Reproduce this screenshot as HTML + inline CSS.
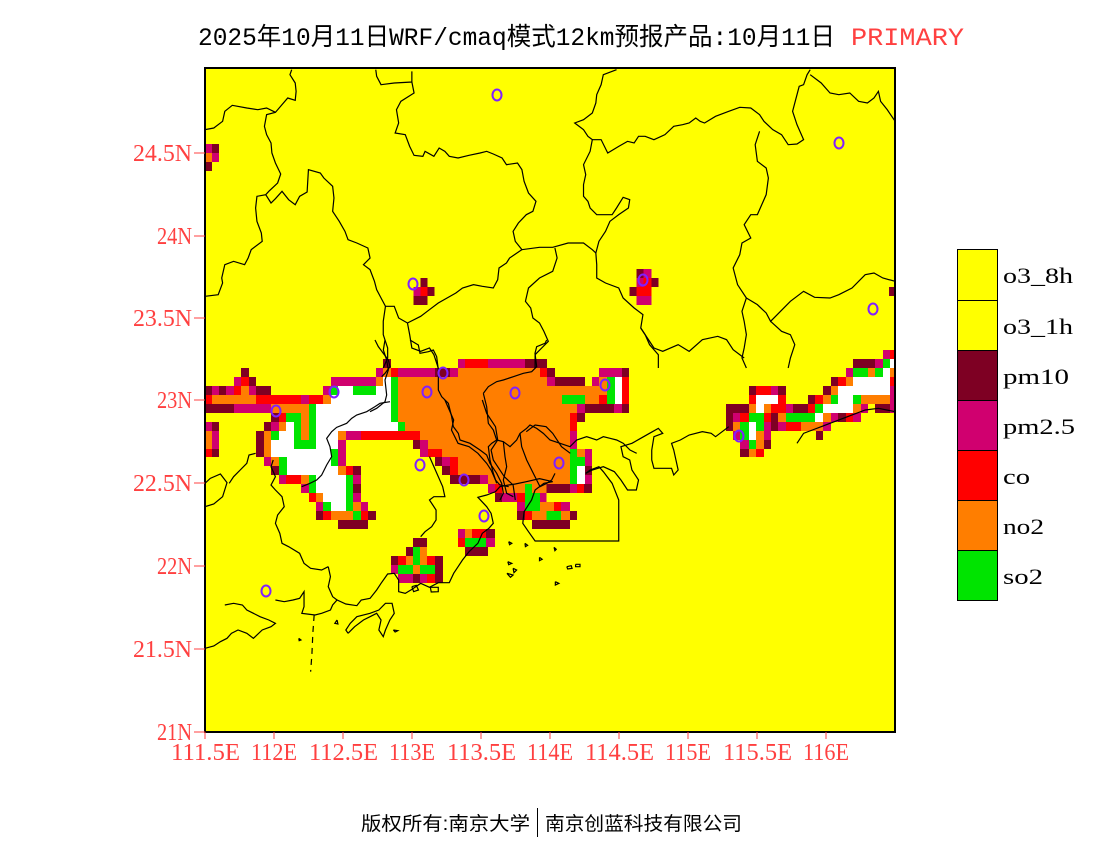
<!DOCTYPE html>
<html><head><meta charset="utf-8">
<style>
html,body{margin:0;padding:0;background:#fff;}
body{width:1100px;height:850px;overflow:hidden;}
.m{fill:#7e0023}.p{fill:#d0006f}.r{fill:#ff0000}.o{fill:#ff7e00}.g{fill:#00e400}.w{fill:#ffffff}
.cells rect{shape-rendering:crispEdges}
.ln{fill:none;stroke:#000;stroke-width:1.2;vector-effect:non-scaling-stroke}
.cir{fill:none;stroke:#8020ff;stroke-width:2}
.ax{font-family:"Liberation Serif",serif;font-size:24px;fill:#ff4040}
.lg{font-family:"Liberation Serif",serif;font-size:22px;fill:#000}
</style></head>
<body>
<svg width="1100" height="850" xmlns="http://www.w3.org/2000/svg">
<defs><clipPath id="cp"><rect x="205" y="68" width="690" height="664"/></clipPath></defs>

<text x="198" y="45" font-family="Liberation Mono,'Noto Sans CJK SC',monospace" font-size="25" fill="#000" textLength="637" lengthAdjust="spacingAndGlyphs">2025年10月11日WRF/cmaq模式12km预报产品:10月11日</text>
<text x="851" y="45" font-family="Liberation Mono,monospace" font-size="25" fill="#ff4040" textLength="113" lengthAdjust="spacingAndGlyphs">PRIMARY</text>

<g clip-path="url(#cp)">
<rect x="205" y="68" width="690" height="664" fill="#ffff00"/>

<g class="cells">
<!-- top-left -->
<rect class="p" x="205" y="144" width="7" height="9"/><rect class="m" x="212" y="144" width="7" height="9"/>
<rect class="o" x="205" y="153" width="7" height="9"/><rect class="p" x="212" y="153" width="7" height="9"/>
<rect class="m" x="205" y="162" width="7" height="9"/>
<!-- 23.7N clusters -->
<rect class="m" x="420.3" y="278" width="7" height="9"/><rect class="p" x="413.3" y="287" width="7" height="9"/><rect class="r" x="420.3" y="287" width="7" height="9"/><rect class="m" x="427.3" y="287" width="7" height="9"/><rect class="m" x="413.3" y="296" width="14" height="9"/>
<rect class="m" x="636.3" y="269" width="7" height="9"/><rect class="p" x="643.3" y="269" width="8" height="9"/><rect class="p" x="636.3" y="278" width="7" height="9"/><rect class="r" x="643.3" y="278" width="8" height="9"/><rect class="m" x="651.3" y="278" width="7" height="9"/><rect class="m" x="629.3" y="287" width="7" height="9"/><rect class="r" x="636.3" y="287" width="15" height="9"/><rect class="p" x="636.3" y="296" width="15" height="9"/>
<rect class="m" x="889" y="287" width="6" height="9"/>

<!-- zoom1 region -->
<g transform="translate(190,340) scale(0.333333)">
<rect class="m" x="579" y="57" width="24" height="27"/>
<rect class="m" x="153" y="84" width="24" height="27"/><rect class="p" x="558" y="84" width="21" height="27"/><rect class="o" x="579" y="84" width="24" height="27"/><rect class="r" x="603" y="84" width="21" height="27"/>
<rect class="p" x="132" y="111" width="21" height="27"/><rect class="r" x="153" y="111" width="24" height="27"/><rect class="m" x="177" y="111" width="21" height="27"/><rect class="p" x="423" y="111" width="135" height="27"/><rect class="o" x="558" y="111" width="21" height="27"/><rect class="w" x="579" y="111" width="24" height="27"/><rect class="g" x="603" y="111" width="21" height="27"/>
<rect class="m" x="40" y="138" width="26" height="27"/><rect class="p" x="66" y="138" width="21" height="27"/><rect class="m" x="87" y="138" width="21" height="27"/><rect class="p" x="108" y="138" width="24" height="27"/><rect class="r" x="132" y="138" width="21" height="27"/><rect class="o" x="153" y="138" width="24" height="27"/><rect class="p" x="177" y="138" width="21" height="27"/><rect class="m" x="198" y="138" width="45" height="27"/><rect class="p" x="399" y="138" width="24" height="27"/><rect class="g" x="423" y="138" width="21" height="27"/><rect class="w" x="444" y="138" width="45" height="27"/><rect class="g" x="489" y="138" width="69" height="27"/><rect class="w" x="558" y="138" width="45" height="27"/><rect class="g" x="603" y="138" width="21" height="27"/>
<rect class="r" x="40" y="165" width="26" height="27"/><rect class="o" x="66" y="165" width="132" height="27"/><rect class="r" x="198" y="165" width="135" height="27"/><rect class="p" x="333" y="165" width="24" height="27"/><rect class="r" x="357" y="165" width="42" height="27"/><rect class="o" x="399" y="165" width="24" height="27"/><rect class="w" x="423" y="165" width="180" height="27"/><rect class="g" x="603" y="165" width="21" height="27"/>
<rect class="m" x="40" y="192" width="92" height="27"/><rect class="p" x="132" y="192" width="111" height="27"/><rect class="o" x="243" y="192" width="114" height="27"/><rect class="g" x="357" y="192" width="21" height="27"/><rect class="w" x="378" y="192" width="225" height="27"/><rect class="g" x="603" y="192" width="21" height="27"/>
<rect class="m" x="243" y="219" width="24" height="27"/><rect class="r" x="267" y="219" width="21" height="27"/><rect class="g" x="288" y="219" width="45" height="27"/><rect class="o" x="333" y="219" width="24" height="27"/><rect class="g" x="357" y="219" width="21" height="27"/><rect class="w" x="378" y="219" width="225" height="27"/><rect class="g" x="603" y="219" width="21" height="27"/>
<rect class="p" x="40" y="246" width="26" height="27"/><rect class="m" x="66" y="246" width="21" height="27"/><rect class="m" x="222" y="246" width="21" height="27"/><rect class="p" x="243" y="246" width="24" height="27"/><rect class="o" x="267" y="246" width="21" height="27"/><rect class="w" x="288" y="246" width="24" height="27"/><rect class="g" x="312" y="246" width="21" height="27"/><rect class="o" x="333" y="246" width="24" height="27"/><rect class="g" x="357" y="246" width="21" height="27"/><rect class="w" x="378" y="246" width="246" height="27"/>
<rect class="o" x="40" y="273" width="26" height="27"/><rect class="p" x="66" y="273" width="21" height="27"/><rect class="m" x="198" y="273" width="24" height="27"/><rect class="o" x="222" y="273" width="21" height="27"/><rect class="g" x="243" y="273" width="24" height="27"/><rect class="w" x="267" y="273" width="45" height="27"/><rect class="g" x="312" y="273" width="21" height="27"/><rect class="o" x="333" y="273" width="24" height="27"/><rect class="g" x="357" y="273" width="21" height="27"/><rect class="w" x="378" y="273" width="66" height="27"/><rect class="o" x="444" y="273" width="24" height="27"/><rect class="p" x="468" y="273" width="45" height="27"/><rect class="r" x="513" y="273" width="111" height="27"/>
<rect class="o" x="40" y="300" width="26" height="27"/><rect class="p" x="66" y="300" width="21" height="27"/><rect class="m" x="198" y="300" width="24" height="27"/><rect class="o" x="222" y="300" width="21" height="27"/><rect class="w" x="243" y="300" width="69" height="27"/><rect class="g" x="312" y="300" width="66" height="27"/><rect class="w" x="378" y="300" width="66" height="27"/><rect class="p" x="444" y="300" width="24" height="27"/>
<rect class="r" x="40" y="327" width="26" height="24"/><rect class="m" x="66" y="327" width="21" height="24"/><rect class="m" x="198" y="327" width="24" height="24"/><rect class="o" x="222" y="327" width="21" height="24"/><rect class="w" x="243" y="327" width="180" height="24"/><rect class="g" x="423" y="327" width="21" height="24"/><rect class="p" x="444" y="327" width="24" height="24"/>
<rect class="p" x="222" y="351" width="21" height="27"/><rect class="o" x="243" y="351" width="24" height="27"/><rect class="g" x="267" y="351" width="24" height="27"/><rect class="w" x="291" y="351" width="132" height="27"/><rect class="g" x="423" y="351" width="21" height="27"/><rect class="p" x="444" y="351" width="24" height="27"/>
<rect class="m" x="243" y="378" width="24" height="27"/><rect class="g" x="267" y="378" width="24" height="27"/><rect class="w" x="291" y="378" width="153" height="27"/><rect class="o" x="444" y="378" width="24" height="27"/><rect class="r" x="468" y="378" width="21" height="27"/><rect class="m" x="489" y="378" width="24" height="27"/>
<rect class="p" x="267" y="405" width="21" height="27"/><rect class="r" x="288" y="405" width="45" height="27"/><rect class="o" x="333" y="405" width="24" height="27"/><rect class="g" x="357" y="405" width="21" height="27"/><rect class="w" x="378" y="405" width="90" height="27"/><rect class="g" x="468" y="405" width="21" height="27"/><rect class="p" x="489" y="405" width="24" height="27"/>
<rect class="p" x="333" y="432" width="24" height="27"/><rect class="g" x="357" y="432" width="21" height="27"/><rect class="w" x="378" y="432" width="90" height="27"/><rect class="g" x="468" y="432" width="21" height="27"/><rect class="m" x="489" y="432" width="24" height="27"/>
<rect class="r" x="357" y="459" width="21" height="27"/><rect class="o" x="378" y="459" width="21" height="27"/><rect class="w" x="399" y="459" width="69" height="27"/><rect class="g" x="468" y="459" width="21" height="27"/><rect class="p" x="489" y="459" width="24" height="27"/>
<rect class="p" x="378" y="486" width="21" height="27"/><rect class="g" x="399" y="486" width="24" height="27"/><rect class="w" x="423" y="486" width="45" height="27"/><rect class="g" x="468" y="486" width="21" height="27"/><rect class="o" x="489" y="486" width="24" height="27"/><rect class="p" x="513" y="486" width="21" height="27"/>
<rect class="m" x="378" y="513" width="21" height="27"/><rect class="r" x="399" y="513" width="24" height="27"/><rect class="o" x="423" y="513" width="66" height="27"/><rect class="g" x="489" y="513" width="24" height="27"/><rect class="r" x="513" y="513" width="21" height="27"/><rect class="m" x="534" y="513" width="24" height="27"/>
<rect class="m" x="444" y="540" width="90" height="27"/>
</g>

<!-- zoom2 region (main orange) -->
<g transform="translate(370,340) scale(0.333333)">
<rect class="p" x="264" y="57" width="21" height="27"/><rect class="r" x="285" y="57" width="69" height="27"/><rect class="p" x="354" y="57" width="111" height="27"/><rect class="m" x="465" y="57" width="66" height="27"/>
<rect class="p" x="84" y="84" width="111" height="27"/><rect class="m" x="195" y="84" width="45" height="27"/><rect class="p" x="240" y="84" width="24" height="27"/><rect class="o" x="264" y="84" width="246" height="27"/><rect class="r" x="510" y="84" width="21" height="27"/><rect class="m" x="531" y="84" width="24" height="27"/><rect class="p" x="687" y="84" width="69" height="27"/><rect class="m" x="756" y="84" width="21" height="27"/>
<rect class="o" x="84" y="111" width="447" height="27"/><rect class="p" x="531" y="111" width="24" height="27"/><rect class="m" x="555" y="111" width="90" height="27"/><rect class="p" x="666" y="111" width="21" height="27"/><rect class="o" x="687" y="111" width="24" height="27"/><rect class="g" x="711" y="111" width="24" height="27"/><rect class="w" x="735" y="111" width="21" height="27"/><rect class="r" x="756" y="111" width="21" height="27"/>
<rect class="o" x="84" y="138" width="627" height="27"/><rect class="g" x="711" y="138" width="24" height="27"/><rect class="w" x="735" y="138" width="21" height="27"/><rect class="r" x="756" y="138" width="21" height="27"/>
<rect class="o" x="84" y="165" width="492" height="27"/><rect class="g" x="576" y="165" width="69" height="27"/><rect class="o" x="645" y="165" width="42" height="27"/><rect class="r" x="687" y="165" width="24" height="27"/><rect class="g" x="711" y="165" width="24" height="27"/><rect class="w" x="735" y="165" width="21" height="27"/><rect class="r" x="756" y="165" width="21" height="27"/>
<rect class="o" x="84" y="192" width="537" height="27"/><rect class="p" x="621" y="192" width="24" height="27"/><rect class="m" x="645" y="192" width="87" height="27"/><rect class="p" x="732" y="192" width="24" height="27"/><rect class="m" x="756" y="192" width="21" height="27"/>
<rect class="o" x="84" y="219" width="516" height="27"/><rect class="r" x="600" y="219" width="21" height="27"/><rect class="m" x="621" y="219" width="24" height="27"/>
<rect class="g" x="84" y="246" width="21" height="27"/><rect class="o" x="105" y="246" width="495" height="27"/><rect class="r" x="600" y="246" width="21" height="27"/>
<rect class="r" x="84" y="273" width="66" height="27"/><rect class="o" x="150" y="273" width="450" height="27"/><rect class="p" x="600" y="273" width="21" height="27"/>
<rect class="m" x="129" y="300" width="21" height="27"/><rect class="p" x="150" y="300" width="24" height="27"/><rect class="o" x="174" y="300" width="426" height="27"/><rect class="p" x="600" y="300" width="21" height="27"/>
<rect class="p" x="150" y="327" width="24" height="24"/><rect class="r" x="174" y="327" width="42" height="24"/><rect class="o" x="216" y="327" width="384" height="24"/><rect class="g" x="600" y="327" width="21" height="24"/><rect class="o" x="621" y="327" width="24" height="24"/><rect class="p" x="645" y="327" width="21" height="24"/>
<rect class="m" x="195" y="351" width="21" height="27"/><rect class="p" x="216" y="351" width="24" height="27"/><rect class="r" x="240" y="351" width="24" height="27"/><rect class="o" x="264" y="351" width="336" height="27"/><rect class="g" x="600" y="351" width="45" height="27"/><rect class="p" x="645" y="351" width="21" height="27"/>
<rect class="m" x="216" y="378" width="24" height="27"/><rect class="r" x="240" y="378" width="24" height="27"/><rect class="o" x="264" y="378" width="336" height="27"/><rect class="g" x="600" y="378" width="21" height="27"/><rect class="w" x="621" y="378" width="24" height="27"/><rect class="m" x="645" y="378" width="21" height="27"/>
<rect class="m" x="240" y="405" width="90" height="27"/><rect class="p" x="330" y="405" width="24" height="27"/><rect class="o" x="354" y="405" width="246" height="27"/><rect class="g" x="600" y="405" width="21" height="27"/><rect class="w" x="621" y="405" width="24" height="27"/><rect class="p" x="645" y="405" width="21" height="27"/>
</g>

<!-- zoom7 region (south) -->
<g transform="translate(380,480) scale(0.333333)">
<rect class="p" x="324" y="12" width="21" height="27"/><rect class="r" x="345" y="12" width="21" height="27"/><rect class="o" x="366" y="12" width="69" height="27"/><rect class="g" x="435" y="12" width="21" height="27"/><rect class="o" x="456" y="12" width="44" height="27"/><rect class="m" x="500" y="12" width="70" height="27"/><rect class="p" x="570" y="12" width="21" height="27"/><rect class="r" x="591" y="12" width="21" height="27"/><rect class="m" x="612" y="12" width="24" height="27"/>
<rect class="m" x="345" y="39" width="21" height="27"/><rect class="p" x="366" y="39" width="45" height="27"/><rect class="r" x="411" y="39" width="24" height="27"/><rect class="g" x="435" y="39" width="45" height="27"/><rect class="p" x="480" y="39" width="20" height="27"/>
<rect class="p" x="411" y="66" width="24" height="27"/><rect class="g" x="435" y="66" width="45" height="27"/><rect class="o" x="480" y="66" width="42" height="27"/><rect class="r" x="522" y="66" width="21" height="27"/><rect class="p" x="543" y="66" width="27" height="27"/>
<rect class="m" x="411" y="93" width="24" height="27"/><rect class="r" x="435" y="93" width="21" height="27"/><rect class="o" x="456" y="93" width="44" height="27"/><rect class="g" x="500" y="93" width="43" height="27"/><rect class="o" x="543" y="93" width="27" height="27"/><rect class="m" x="570" y="93" width="21" height="27"/>
<rect class="m" x="456" y="120" width="114" height="27"/>
<rect class="p" x="234" y="147" width="21" height="27"/><rect class="o" x="255" y="147" width="21" height="27"/><rect class="r" x="276" y="147" width="42" height="27"/><rect class="m" x="318" y="147" width="27" height="27"/>
<rect class="r" x="234" y="174" width="21" height="27"/><rect class="g" x="255" y="174" width="63" height="27"/><rect class="p" x="318" y="174" width="27" height="27"/>
<rect class="m" x="255" y="201" width="69" height="27"/>
<rect class="m" x="99" y="174" width="42" height="27"/>
<rect class="m" x="78" y="201" width="21" height="27"/><rect class="g" x="99" y="201" width="21" height="27"/><rect class="o" x="120" y="201" width="21" height="27"/>
<rect class="m" x="33" y="228" width="21" height="27"/><rect class="r" x="54" y="228" width="24" height="27"/><rect class="o" x="78" y="228" width="21" height="27"/><rect class="g" x="99" y="228" width="21" height="27"/><rect class="o" x="120" y="228" width="21" height="27"/><rect class="r" x="141" y="228" width="24" height="27"/><rect class="m" x="165" y="228" width="24" height="27"/>
<rect class="p" x="33" y="255" width="21" height="27"/><rect class="g" x="54" y="255" width="45" height="27"/><rect class="o" x="99" y="255" width="21" height="27"/><rect class="g" x="120" y="255" width="45" height="27"/><rect class="m" x="165" y="255" width="24" height="27"/>
<rect class="p" x="54" y="282" width="45" height="27"/><rect class="m" x="99" y="282" width="21" height="27"/><rect class="p" x="120" y="282" width="21" height="27"/><rect class="r" x="141" y="282" width="24" height="27"/><rect class="m" x="165" y="282" width="24" height="27"/>
</g>

<!-- zoom3 region (east) -->
<g transform="translate(700,340) scale(0.333333)">
<rect class="p" x="549" y="30" width="21" height="27"/><rect class="r" x="570" y="30" width="20" height="27"/>
<rect class="m" x="459" y="57" width="66" height="27"/><rect class="p" x="525" y="57" width="24" height="27"/><rect class="g" x="549" y="57" width="21" height="27"/><rect class="w" x="570" y="57" width="20" height="27"/>
<rect class="p" x="438" y="84" width="21" height="27"/><rect class="g" x="459" y="84" width="45" height="27"/><rect class="o" x="504" y="84" width="21" height="27"/><rect class="g" x="525" y="84" width="24" height="27"/><rect class="w" x="549" y="84" width="21" height="27"/><rect class="o" x="570" y="84" width="20" height="27"/>
<rect class="m" x="393" y="111" width="21" height="27"/><rect class="r" x="414" y="111" width="24" height="27"/><rect class="o" x="438" y="111" width="21" height="27"/><rect class="w" x="459" y="111" width="111" height="27"/><rect class="r" x="570" y="111" width="20" height="27"/>
<rect class="m" x="147" y="138" width="21" height="27"/><rect class="r" x="168" y="138" width="45" height="27"/><rect class="p" x="213" y="138" width="21" height="27"/><rect class="m" x="234" y="138" width="24" height="27"/><rect class="m" x="369" y="138" width="24" height="27"/><rect class="o" x="393" y="138" width="21" height="27"/><rect class="w" x="414" y="138" width="156" height="27"/><rect class="p" x="570" y="138" width="20" height="27"/>
<rect class="r" x="147" y="165" width="21" height="27"/><rect class="w" x="168" y="165" width="66" height="27"/><rect class="r" x="234" y="165" width="24" height="27"/><rect class="m" x="324" y="165" width="21" height="27"/><rect class="r" x="345" y="165" width="24" height="27"/><rect class="o" x="369" y="165" width="24" height="27"/><rect class="g" x="393" y="165" width="21" height="27"/><rect class="w" x="414" y="165" width="45" height="27"/><rect class="g" x="459" y="165" width="24" height="27"/><rect class="o" x="483" y="165" width="87" height="27"/><rect class="p" x="570" y="165" width="20" height="27"/>
<rect class="m" x="78" y="192" width="69" height="27"/><rect class="o" x="147" y="192" width="21" height="27"/><rect class="w" x="168" y="192" width="24" height="27"/><rect class="o" x="192" y="192" width="21" height="27"/><rect class="r" x="213" y="192" width="45" height="27"/><rect class="p" x="258" y="192" width="21" height="27"/><rect class="m" x="279" y="192" width="45" height="27"/><rect class="r" x="324" y="192" width="21" height="27"/><rect class="g" x="345" y="192" width="24" height="27"/><rect class="w" x="369" y="192" width="90" height="27"/><rect class="o" x="459" y="192" width="24" height="27"/><rect class="p" x="483" y="192" width="21" height="27"/><rect class="m" x="525" y="192" width="45" height="27"/><rect class="p" x="570" y="192" width="20" height="27"/>
<rect class="m" x="78" y="219" width="21" height="27"/><rect class="p" x="99" y="219" width="21" height="27"/><rect class="r" x="120" y="219" width="27" height="27"/><rect class="g" x="147" y="219" width="45" height="27"/><rect class="r" x="192" y="219" width="21" height="27"/><rect class="m" x="213" y="219" width="21" height="27"/><rect class="o" x="234" y="219" width="24" height="27"/><rect class="g" x="258" y="219" width="87" height="27"/><rect class="w" x="345" y="219" width="24" height="27"/><rect class="o" x="369" y="219" width="24" height="27"/><rect class="p" x="393" y="219" width="21" height="27"/><rect class="m" x="414" y="219" width="24" height="27"/><rect class="r" x="438" y="219" width="21" height="27"/><rect class="p" x="459" y="219" width="24" height="27"/>
<rect class="m" x="78" y="246" width="21" height="27"/><rect class="o" x="99" y="246" width="21" height="27"/><rect class="g" x="120" y="246" width="27" height="27"/><rect class="w" x="147" y="246" width="21" height="27"/><rect class="g" x="168" y="246" width="24" height="27"/><rect class="p" x="192" y="246" width="21" height="27"/><rect class="m" x="213" y="246" width="21" height="27"/><rect class="p" x="234" y="246" width="24" height="27"/><rect class="r" x="258" y="246" width="45" height="27"/><rect class="o" x="303" y="246" width="66" height="27"/><rect class="p" x="369" y="246" width="24" height="27"/>
<rect class="p" x="99" y="273" width="21" height="27"/><rect class="g" x="120" y="273" width="27" height="27"/><rect class="w" x="147" y="273" width="21" height="27"/><rect class="o" x="168" y="273" width="24" height="27"/><rect class="p" x="192" y="273" width="21" height="27"/><rect class="m" x="348" y="273" width="21" height="27"/>
<rect class="p" x="120" y="300" width="27" height="27"/><rect class="g" x="147" y="300" width="21" height="27"/><rect class="o" x="168" y="300" width="24" height="27"/><rect class="m" x="192" y="300" width="21" height="27"/>
<rect class="m" x="120" y="327" width="27" height="24"/><rect class="o" x="147" y="327" width="21" height="24"/><rect class="r" x="168" y="327" width="24" height="24"/>
</g>
</g>

<!-- boundary lines north -->
<g transform="translate(205,68) scale(0.44014,0.333333)">
<polyline class="ln" points="197,5 193,20 205,45 207,70 205,97 188,90 175,110 160,133 140,140 135,175 140,200 150,225 152,255 160,285 172,318 165,345 145,370 138,380 118,385 115,420 118,460 128,495 130,520 105,545 98,570 90,590 65,580 45,590 38,630 40,645 30,680 0,685"/>
<polyline class="ln" points="0,185 20,180 40,160 45,130 62,112 95,120 120,125 140,120 160,133"/>
<polyline class="ln" points="138,380 150,405 160,392 175,370 190,395 205,410 215,385 232,372 235,305 262,315 270,330 290,355 293,390 290,430 305,460 318,490 325,515 345,525 370,540 375,570 360,590 375,605 385,640 390,665 400,690 410,715 430,715 440,750 460,765 490,745 505,730 530,705 570,675 585,660 610,650 630,655 655,660 665,635 668,600 685,585 692,570 720,545"/>
<polyline class="ln" points="388,5 390,25 400,50 430,45 470,42 470,10"/>
<polyline class="ln" points="470,42 475,75 445,100 435,125 440,165 432,195 455,200 465,235 475,262 495,265 500,250 520,265 532,240 545,250 555,265 575,270 600,262 625,255 640,250 655,258 675,270 685,290 710,285 720,305 725,340 735,375 752,400 745,430 730,440 712,465 700,490 705,520 720,545 760,538 790,538 825,525 860,525 880,545 888,555"/>
<polyline class="ln" points="935,5 905,20 900,50 890,80 888,105 880,135 860,155 840,165 860,185 870,205 880,215 875,250 860,290 865,320 860,350 860,385 870,400 875,420 890,440 925,440 935,420 950,388 965,395 962,420 940,440 920,460 910,490 895,520 888,555 890,590 890,630 910,645 940,660 950,690 975,720 995,740 990,780 1000,800 1010,830 1030,860 1030,900"/>
<polyline class="ln" points="880,215 900,215 915,255 940,235 960,220 975,225 985,205 1000,205 1020,215 1045,200 1065,175 1085,170 1100,165 1115,150 1125,160 1135,165 1160,145 1190,130 1215,118 1240,120 1260,140 1270,160 1290,185 1310,200 1325,230 1345,228 1360,215 1345,170 1335,130 1345,80 1350,55 1360,50 1368,20 1375,5"/>
<polyline class="ln" points="1375,20 1400,45 1420,75 1440,80 1465,75 1485,100 1505,105 1520,90 1530,70 1535,100 1550,125 1568,160"/>
<polyline class="ln" points="1260,190 1250,230 1255,280 1275,300 1280,330 1275,380 1265,410 1255,440 1240,440 1225,470 1240,510 1220,525 1215,560 1200,600 1210,650 1230,690 1220,730 1225,760 1230,800 1225,840 1220,870 1230,900"/>
<polyline class="ln" points="1230,690 1255,710 1275,735 1285,760 1300,740 1330,700 1345,685 1360,670 1385,688 1420,690 1440,680 1470,660 1500,620 1520,615 1540,630 1568,640"/>
<polyline class="ln" points="1285,760 1310,790 1330,800 1340,830 1330,870 1325,900"/>
<polyline class="ln" points="795,540 800,570 790,610 760,630 735,660 728,700 740,720 745,750 760,765 770,790 780,820 765,840 750,860 750,900"/>
<polyline class="ln" points="990,780 1020,840 1040,850 1075,830 1100,850 1130,815 1165,805 1185,815 1200,845 1225,870"/>
<polyline class="ln" points="410,715 405,760 405,800 415,840 415,870 405,900"/>
<polyline class="ln" points="460,765 465,800 470,840 490,850 510,840 520,860 530,900"/>
</g>

<!-- lines in orange / west cluster -->
<g transform="translate(370,340) scale(0.333333)">
<polyline class="ln" points="120,0 145,15 150,40 175,35 190,30 200,50 205,90 205,150 215,170 235,190 245,230 250,260 265,280 270,300 300,310 330,330 350,345 360,370 380,400 395,430 400,460 390,480"/>
<polyline class="ln" points="340,160 355,140 380,125 400,120 430,110 460,100 485,95 500,80 495,40 500,20 525,10 530,0"/>
<polyline class="ln" points="340,160 350,200 355,250 370,270 380,300 365,310 355,320 360,360 370,400 380,430"/>
<polyline class="ln" points="380,300 400,305 420,320 440,300 450,280 470,265 480,255 500,265 520,280 540,300 570,310 600,320 620,300 650,290 680,300 700,290 720,295 740,300 760,310 780,330 800,340"/>
<polyline class="ln" points="400,305 405,350 410,380 400,420 410,460 430,470"/>
<polyline class="ln" points="450,280 455,320 470,360 490,400 500,420 510,440 530,430 545,420 555,400"/>
<polyline class="ln" points="0,215 20,205 45,185 50,165 45,120 55,90 50,60 40,30 45,0"/>
</g>
<g transform="translate(190,340) scale(0.333333)">
<polyline class="ln" points="555,0 565,20 580,40 595,60 600,80 585,100 575,110"/>
<polyline class="ln" points="600,185 570,190 555,200 530,215 500,225 485,235 470,250 440,262 425,275 410,295 420,320 425,350 410,375 395,405 380,420 360,430 335,440"/>
</g>

<!-- south coast -->
<g transform="translate(205,400) scale(0.44014,0.333333)">
<polyline class="ln" points="0,745 20,738 35,725 50,715 60,700 75,690 95,700 110,715 130,690 150,680 160,670 145,660 125,650 110,640 95,630 85,615 65,610 45,615"/>
<polyline class="ln" points="160,600 180,605 200,600 215,595 225,575 225,620 220,640 250,645 265,640 285,630 290,615 300,600 320,612 345,617 355,600 375,595 390,570 400,550 415,522 430,520 440,540 440,575 455,580 470,568 490,550 510,562 530,548 555,548 565,520 575,500 585,480 600,455 620,430 630,400 645,385 655,370 650,340 640,320 620,292 640,285 660,275 670,260 690,255 705,252 730,245 760,236 790,245 770,250 750,270 742,300 725,335 722,370 735,395 750,423 940,423 940,300 925,250 905,215 895,200 875,210 865,220"/>
<polyline class="ln" points="865,220 880,210 905,200 930,215 945,240 960,270 980,270 985,240 970,210 965,180 950,170 945,140 970,130 990,115 1010,100 1030,85 1040,100 1020,110 1015,150 1015,180 1020,205 1060,205 1065,225 1075,210 1070,180 1065,150 1060,130 1080,120 1100,105 1130,95 1150,100 1160,110 1175,95 1190,80"/>
<polyline class="ln" points="1345,130 1360,100 1380,90 1400,80 1420,70 1450,55 1480,40 1500,30 1530,25 1568,35"/>
<polyline class="ln" points="0,250 12,235 35,222 50,248 40,290 20,312 0,320"/>
<polyline class="ln" points="55,250 65,230 80,210 95,190 100,165 115,160"/>
<polyline class="ln" points="155,180 150,200 160,230 150,255 160,270 175,290 180,320 165,345 160,370 170,400 175,430 190,440 215,460 225,490 240,505 265,510 280,500"/>
<polyline class="ln" points="280,500 285,530 280,560 290,590 300,600"/>
<polyline class="ln" points="510,170 520,200 530,230 540,260 545,290 520,290 510,300 525,330 525,360 515,380 500,395 490,410"/>
<polyline class="ln" points="545,0 555,30 565,60 560,90 575,130 600,140 620,160 640,190 650,210 660,240 670,255 690,260"/>
<polyline class="ln" points="630,0 640,40 660,80 665,120 650,150 655,180 680,230 700,255 705,300"/>
<polyline class="ln" points="730,95 750,75 775,80 790,100 810,140 830,160"/>
<polyline class="ln" points="248,645 245,700 243,760 240,815" stroke-dasharray="6,5"/>
<polyline class="ln" points="300,660 295,670 302,672 300,660"/>
<polyline class="ln" points="325,700 340,680 360,660 375,650 390,640 400,660 395,690 405,710 410,690 420,660 430,640 425,610 410,610 395,630 375,640 345,650 330,670 320,690 325,700"/>
<polyline class="ln" points="690,425 697,430 692,434 690,425"/>
<polyline class="ln" points="727,430 733,436 728,440 727,430"/>
<polyline class="ln" points="688,485 697,490 690,494 688,485"/>
<polyline class="ln" points="700,505 708,510 702,518 700,505"/>
<polyline class="ln" points="686,520 700,525 694,532 686,520"/>
<polyline class="ln" points="822,500 832,497 834,505 824,507 822,500"/>
<polyline class="ln" points="842,493 852,493 852,500 842,500 842,493"/>
<polyline class="ln" points="796,545 804,550 796,555 796,545"/>
<polyline class="ln" points="760,472 766,478 760,482 760,472"/>
<polyline class="ln" points="793,442 798,448 795,452 793,442"/>
<polyline class="ln" points="470,560 480,556 485,570 474,575 470,560"/>
<polyline class="ln" points="512,562 530,562 530,575 514,576 512,562"/>
<polyline class="ln" points="428,690 438,692 432,696 428,690"/>
<polyline class="ln" points="213,715 218,720 214,722 213,715"/>
</g>

<!-- station circles -->
<g class="cir">
<ellipse cx="497" cy="95" rx="4.5" ry="5.5"/>
<ellipse cx="839" cy="143" rx="4.5" ry="5.5"/>
<ellipse cx="413" cy="284" rx="4.5" ry="5.5"/>
<ellipse cx="643" cy="280" rx="4.5" ry="5.5"/>
<ellipse cx="873" cy="309" rx="4.5" ry="5.5"/>
<ellipse cx="334" cy="392" rx="4.5" ry="5.5"/>
<ellipse cx="276" cy="411" rx="4.5" ry="5.5"/>
<ellipse cx="427" cy="392" rx="4.5" ry="5.5"/>
<ellipse cx="443" cy="373" rx="4.5" ry="5.5"/>
<ellipse cx="515" cy="393" rx="4.5" ry="5.5"/>
<ellipse cx="605" cy="385" rx="4.5" ry="5.5"/>
<ellipse cx="559" cy="463" rx="4.5" ry="5.5"/>
<ellipse cx="464" cy="480" rx="4.5" ry="5.5"/>
<ellipse cx="420" cy="465" rx="4.5" ry="5.5"/>
<ellipse cx="484" cy="516" rx="4.5" ry="5.5"/>
<ellipse cx="266" cy="591" rx="4.5" ry="5.5"/>
<ellipse cx="739" cy="436" rx="4.5" ry="5.5"/>
</g>
</g>

<rect x="205" y="68" width="690" height="664" fill="none" stroke="#000" stroke-width="2"/>

<!-- ticks -->
<g stroke="#ff4040" stroke-width="1">
<line x1="194" y1="153" x2="205" y2="153"/><line x1="194" y1="236" x2="205" y2="236"/><line x1="194" y1="318" x2="205" y2="318"/><line x1="194" y1="400" x2="205" y2="400"/><line x1="194" y1="483" x2="205" y2="483"/><line x1="194" y1="566" x2="205" y2="566"/><line x1="194" y1="649" x2="205" y2="649"/><line x1="194" y1="732" x2="205" y2="732"/>
<line x1="205" y1="732" x2="205" y2="739"/><line x1="274" y1="732" x2="274" y2="739"/><line x1="343" y1="732" x2="343" y2="739"/><line x1="412" y1="732" x2="412" y2="739"/><line x1="481" y1="732" x2="481" y2="739"/><line x1="550" y1="732" x2="550" y2="739"/><line x1="619" y1="732" x2="619" y2="739"/><line x1="688" y1="732" x2="688" y2="739"/><line x1="757" y1="732" x2="757" y2="739"/><line x1="826" y1="732" x2="826" y2="739"/>
</g>

<g class="ax" text-anchor="end">
<text x="192" y="161" textLength="59" lengthAdjust="spacingAndGlyphs">24.5N</text>
<text x="192" y="244" textLength="35" lengthAdjust="spacingAndGlyphs">24N</text>
<text x="192" y="326" textLength="59" lengthAdjust="spacingAndGlyphs">23.5N</text>
<text x="192" y="408" textLength="35" lengthAdjust="spacingAndGlyphs">23N</text>
<text x="192" y="491" textLength="59" lengthAdjust="spacingAndGlyphs">22.5N</text>
<text x="192" y="574" textLength="35" lengthAdjust="spacingAndGlyphs">22N</text>
<text x="192" y="657" textLength="59" lengthAdjust="spacingAndGlyphs">21.5N</text>
<text x="192" y="740" textLength="35" lengthAdjust="spacingAndGlyphs">21N</text>
</g>
<g class="ax">
<text x="171" y="760" textLength="69" lengthAdjust="spacingAndGlyphs">111.5E</text>
<text x="251" y="760" textLength="46" lengthAdjust="spacingAndGlyphs">112E</text>
<text x="309" y="760" textLength="69" lengthAdjust="spacingAndGlyphs">112.5E</text>
<text x="389" y="760" textLength="46" lengthAdjust="spacingAndGlyphs">113E</text>
<text x="447" y="760" textLength="69" lengthAdjust="spacingAndGlyphs">113.5E</text>
<text x="527" y="760" textLength="46" lengthAdjust="spacingAndGlyphs">114E</text>
<text x="585" y="760" textLength="69" lengthAdjust="spacingAndGlyphs">114.5E</text>
<text x="665" y="760" textLength="46" lengthAdjust="spacingAndGlyphs">115E</text>
<text x="723" y="760" textLength="69" lengthAdjust="spacingAndGlyphs">115.5E</text>
<text x="803" y="760" textLength="46" lengthAdjust="spacingAndGlyphs">116E</text>
</g>

<!-- legend -->
<g stroke="#000" stroke-width="1" shape-rendering="crispEdges">
<rect x="957.5" y="249.5" width="40" height="51" fill="#ffff00"/>
<rect x="957.5" y="300.5" width="40" height="50" fill="#ffff00"/>
<rect x="957.5" y="350.5" width="40" height="50" fill="#7e0023"/>
<rect x="957.5" y="400.5" width="40" height="50" fill="#d0006f"/>
<rect x="957.5" y="450.5" width="40" height="50" fill="#ff0000"/>
<rect x="957.5" y="500.5" width="40" height="50" fill="#ff7e00"/>
<rect x="957.5" y="550.5" width="40" height="50" fill="#00e400"/>
</g>
<g class="lg">
<text x="1003" y="283" textLength="70" lengthAdjust="spacingAndGlyphs">o3_8h</text>
<text x="1003" y="334" textLength="70" lengthAdjust="spacingAndGlyphs">o3_1h</text>
<text x="1003" y="384" textLength="66" lengthAdjust="spacingAndGlyphs">pm10</text>
<text x="1003" y="434" textLength="72" lengthAdjust="spacingAndGlyphs">pm2.5</text>
<text x="1003" y="484" textLength="27" lengthAdjust="spacingAndGlyphs">co</text>
<text x="1003" y="534" textLength="41" lengthAdjust="spacingAndGlyphs">no2</text>
<text x="1003" y="584" textLength="40" lengthAdjust="spacingAndGlyphs">so2</text>
</g>

<!-- footer -->
<text x="361" y="830" font-family="'Liberation Sans','Noto Sans CJK SC',sans-serif" font-size="19" fill="#000" textLength="169" lengthAdjust="spacingAndGlyphs">版权所有:南京大学</text>
<line x1="537.5" y1="808" x2="537.5" y2="837" stroke="#000" stroke-width="1"/>
<text x="545" y="830" font-family="'Liberation Sans','Noto Sans CJK SC',sans-serif" font-size="19" fill="#000" textLength="197" lengthAdjust="spacingAndGlyphs">南京创蓝科技有限公司</text>
</svg>
</body></html>
